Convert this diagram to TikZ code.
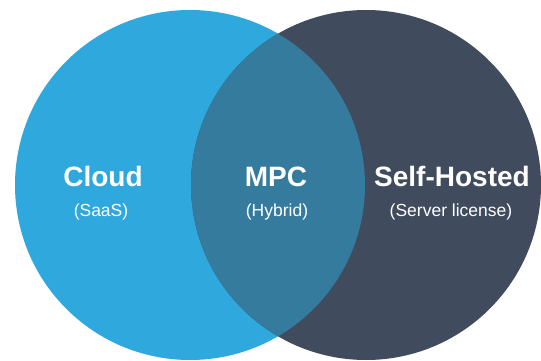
\documentclass[tikz,border=0pt]{standalone}
\usepackage{fontspec}
\setmainfont{Liberation Sans}
\definecolor{cloudblue}{HTML}{2FA8DE}
\definecolor{selfdark}{HTML}{404B5E}
\definecolor{mpcmix}{HTML}{347B9E}
\begin{document}
\begin{tikzpicture}[x=1pt,y=-1pt,
  title/.style={text=white,font=\fontsize{28}{30}\selectfont\bfseries,anchor=base,inner sep=0pt},
  sub/.style={text=white,font=\fontsize{17.5}{19}\selectfont,anchor=base,inner sep=0pt}]
\useasboundingbox (0,0) rectangle (541,361);
\fill[cloudblue] (190,185) circle (175);
\fill[selfdark] (366,185) circle (175);
\begin{scope}
  \clip (190,185) circle (175);
  \fill[mpcmix] (366,185) circle (175);
\end{scope}
\node[title] (cloud) at (103,186) {Cloud};
\node[sub] (saas) at (101,216) {(SaaS)};
\node[title] (mpc) at (276,186) {MPC};
\node[sub] (hybrid) at (277,216) {(Hybrid)};
\node[title] (self) at (452,186) {Self-Hosted};
\node[sub] (server) at (451,216) {(Server license)};
\end{tikzpicture}
\end{document}
